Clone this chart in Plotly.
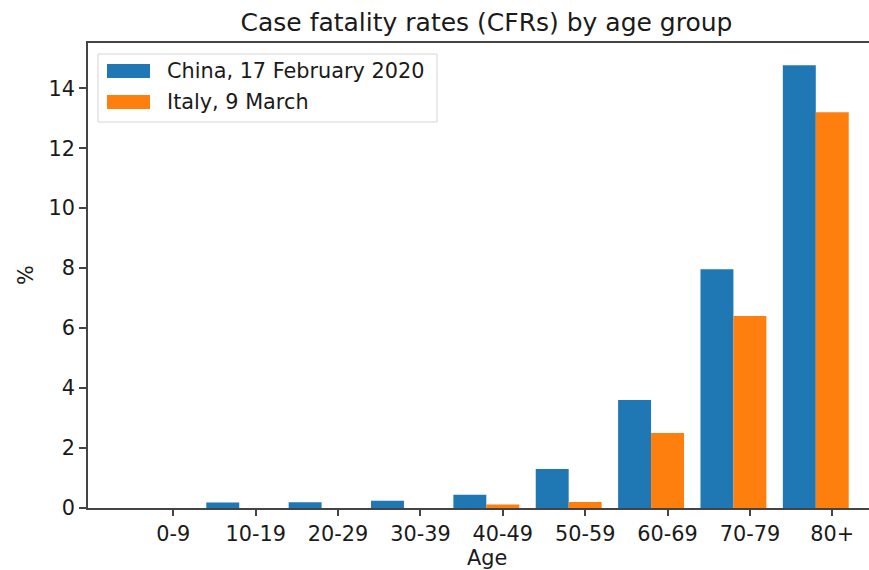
import plotly.graph_objects as go

age_groups = ["0-9", "10-19", "20-29", "30-39", "40-49", "50-59", "60-69", "70-79", "80+"]
china_cfr = [0.0, 0.18, 0.19, 0.24, 0.44, 1.30, 3.60, 7.96, 14.77]
italy_cfr = [0.0, 0.0, 0.0, 0.0, 0.12, 0.2, 2.5, 6.4, 13.2]
china_name = "China, 17 February 2020"
italy_name = "Italy, 9 March"
title_text = "Case fatality rates (CFRs) by age group"
x_title = "Age"
y_title = "%"

W, H = 869, 570
L, R, T, B = 88, 0, 43, 62
PW, PH = W - L - R, H - T - B

def px(x):
    return (x - L) / PW

def py(y):
    return (H - B - y) / PH

FONT = "DejaVu Sans"
FS = 20.8
BLUE = "#1f77b4"
ORANGE = "#ff7f0e"
idx = list(range(len(age_groups)))

fig = go.Figure()
fig.add_trace(go.Bar(x=idx, y=china_cfr, name=china_name, marker_color=BLUE,
                     marker_line_width=0, width=0.4, offset=-0.6))
fig.add_trace(go.Bar(x=idx, y=italy_cfr, name=italy_name, marker_color=ORANGE,
                     marker_line_width=0, width=0.4, offset=-0.2))

shapes = [
    dict(type="rect", xref="paper", yref="paper", x0=px(98), x1=px(437), y0=py(122), y1=py(54),
         line=dict(color="#d4d4d4", width=1), fillcolor="rgba(255,255,255,0.8)", layer="above"),
    dict(type="rect", xref="paper", yref="paper", x0=px(107), x1=px(150), y0=py(78), y1=py(64),
         line=dict(width=0), fillcolor=BLUE, layer="above"),
    dict(type="rect", xref="paper", yref="paper", x0=px(107), x1=px(150), y0=py(109), y1=py(95),
         line=dict(width=0), fillcolor=ORANGE, layer="above"),
]
annotations = [
    dict(text=china_name, xref="paper", yref="paper", x=px(165), y=py(71), xanchor="left",
         yanchor="middle", showarrow=False, font=dict(family=FONT, size=FS, color="#1a1a1a")),
    dict(text=italy_name, xref="paper", yref="paper", x=px(165), y=py(102), xanchor="left",
         yanchor="middle", showarrow=False, font=dict(family=FONT, size=FS, color="#1a1a1a")),
    dict(text=x_title, xref="paper", yref="paper", x=px(487), y=py(558), xanchor="center",
         yanchor="middle", showarrow=False, font=dict(family=FONT, size=FS, color="#1a1a1a")),
    dict(text=y_title, xref="paper", yref="paper", x=px(26), y=py(275), xanchor="center",
         yanchor="middle", showarrow=False, textangle=-90, font=dict(family=FONT, size=FS, color="#1a1a1a")),
]

fig.update_layout(
    width=W, height=H,
    margin=dict(l=L, r=R, t=T, b=B, pad=0),
    paper_bgcolor="white", plot_bgcolor="white",
    barmode="overlay",
    showlegend=False,
    font=dict(family=FONT, size=FS, color="#1a1a1a"),
    title=dict(text=title_text, xref="container", yref="container", x=486.5 / W, y=1 - 22 / H,
               xanchor="center", yanchor="middle", font=dict(family=FONT, size=25, color="#1a1a1a")),
    shapes=shapes,
    annotations=annotations,
)
fig.update_xaxes(
    range=[-1.036, 8.446], tickmode="array", tickvals=idx, ticktext=age_groups,
    showgrid=False, zeroline=False, showline=True, linecolor="#444", linewidth=1.5, mirror=True,
    ticks="outside", ticklen=6, tickwidth=1.5, tickcolor="#444",
    tickfont=dict(family=FONT, size=FS, color="#1a1a1a"),
)
fig.update_yaxes(
    range=[0, 15.51], tickmode="array", tickvals=[0, 2, 4, 6, 8, 10, 12, 14],
    showgrid=False, zeroline=False, showline=True, linecolor="#444", linewidth=1.5, mirror=False,
    ticks="outside", ticklen=7, tickwidth=1.5, tickcolor="#444",
    tickfont=dict(family=FONT, size=FS, color="#1a1a1a"),
)

fig.write_html("out.html", config={"displayModeBar": False},
               post_script="document.body.style.margin='0px';document.body.style.overflow='hidden';")
